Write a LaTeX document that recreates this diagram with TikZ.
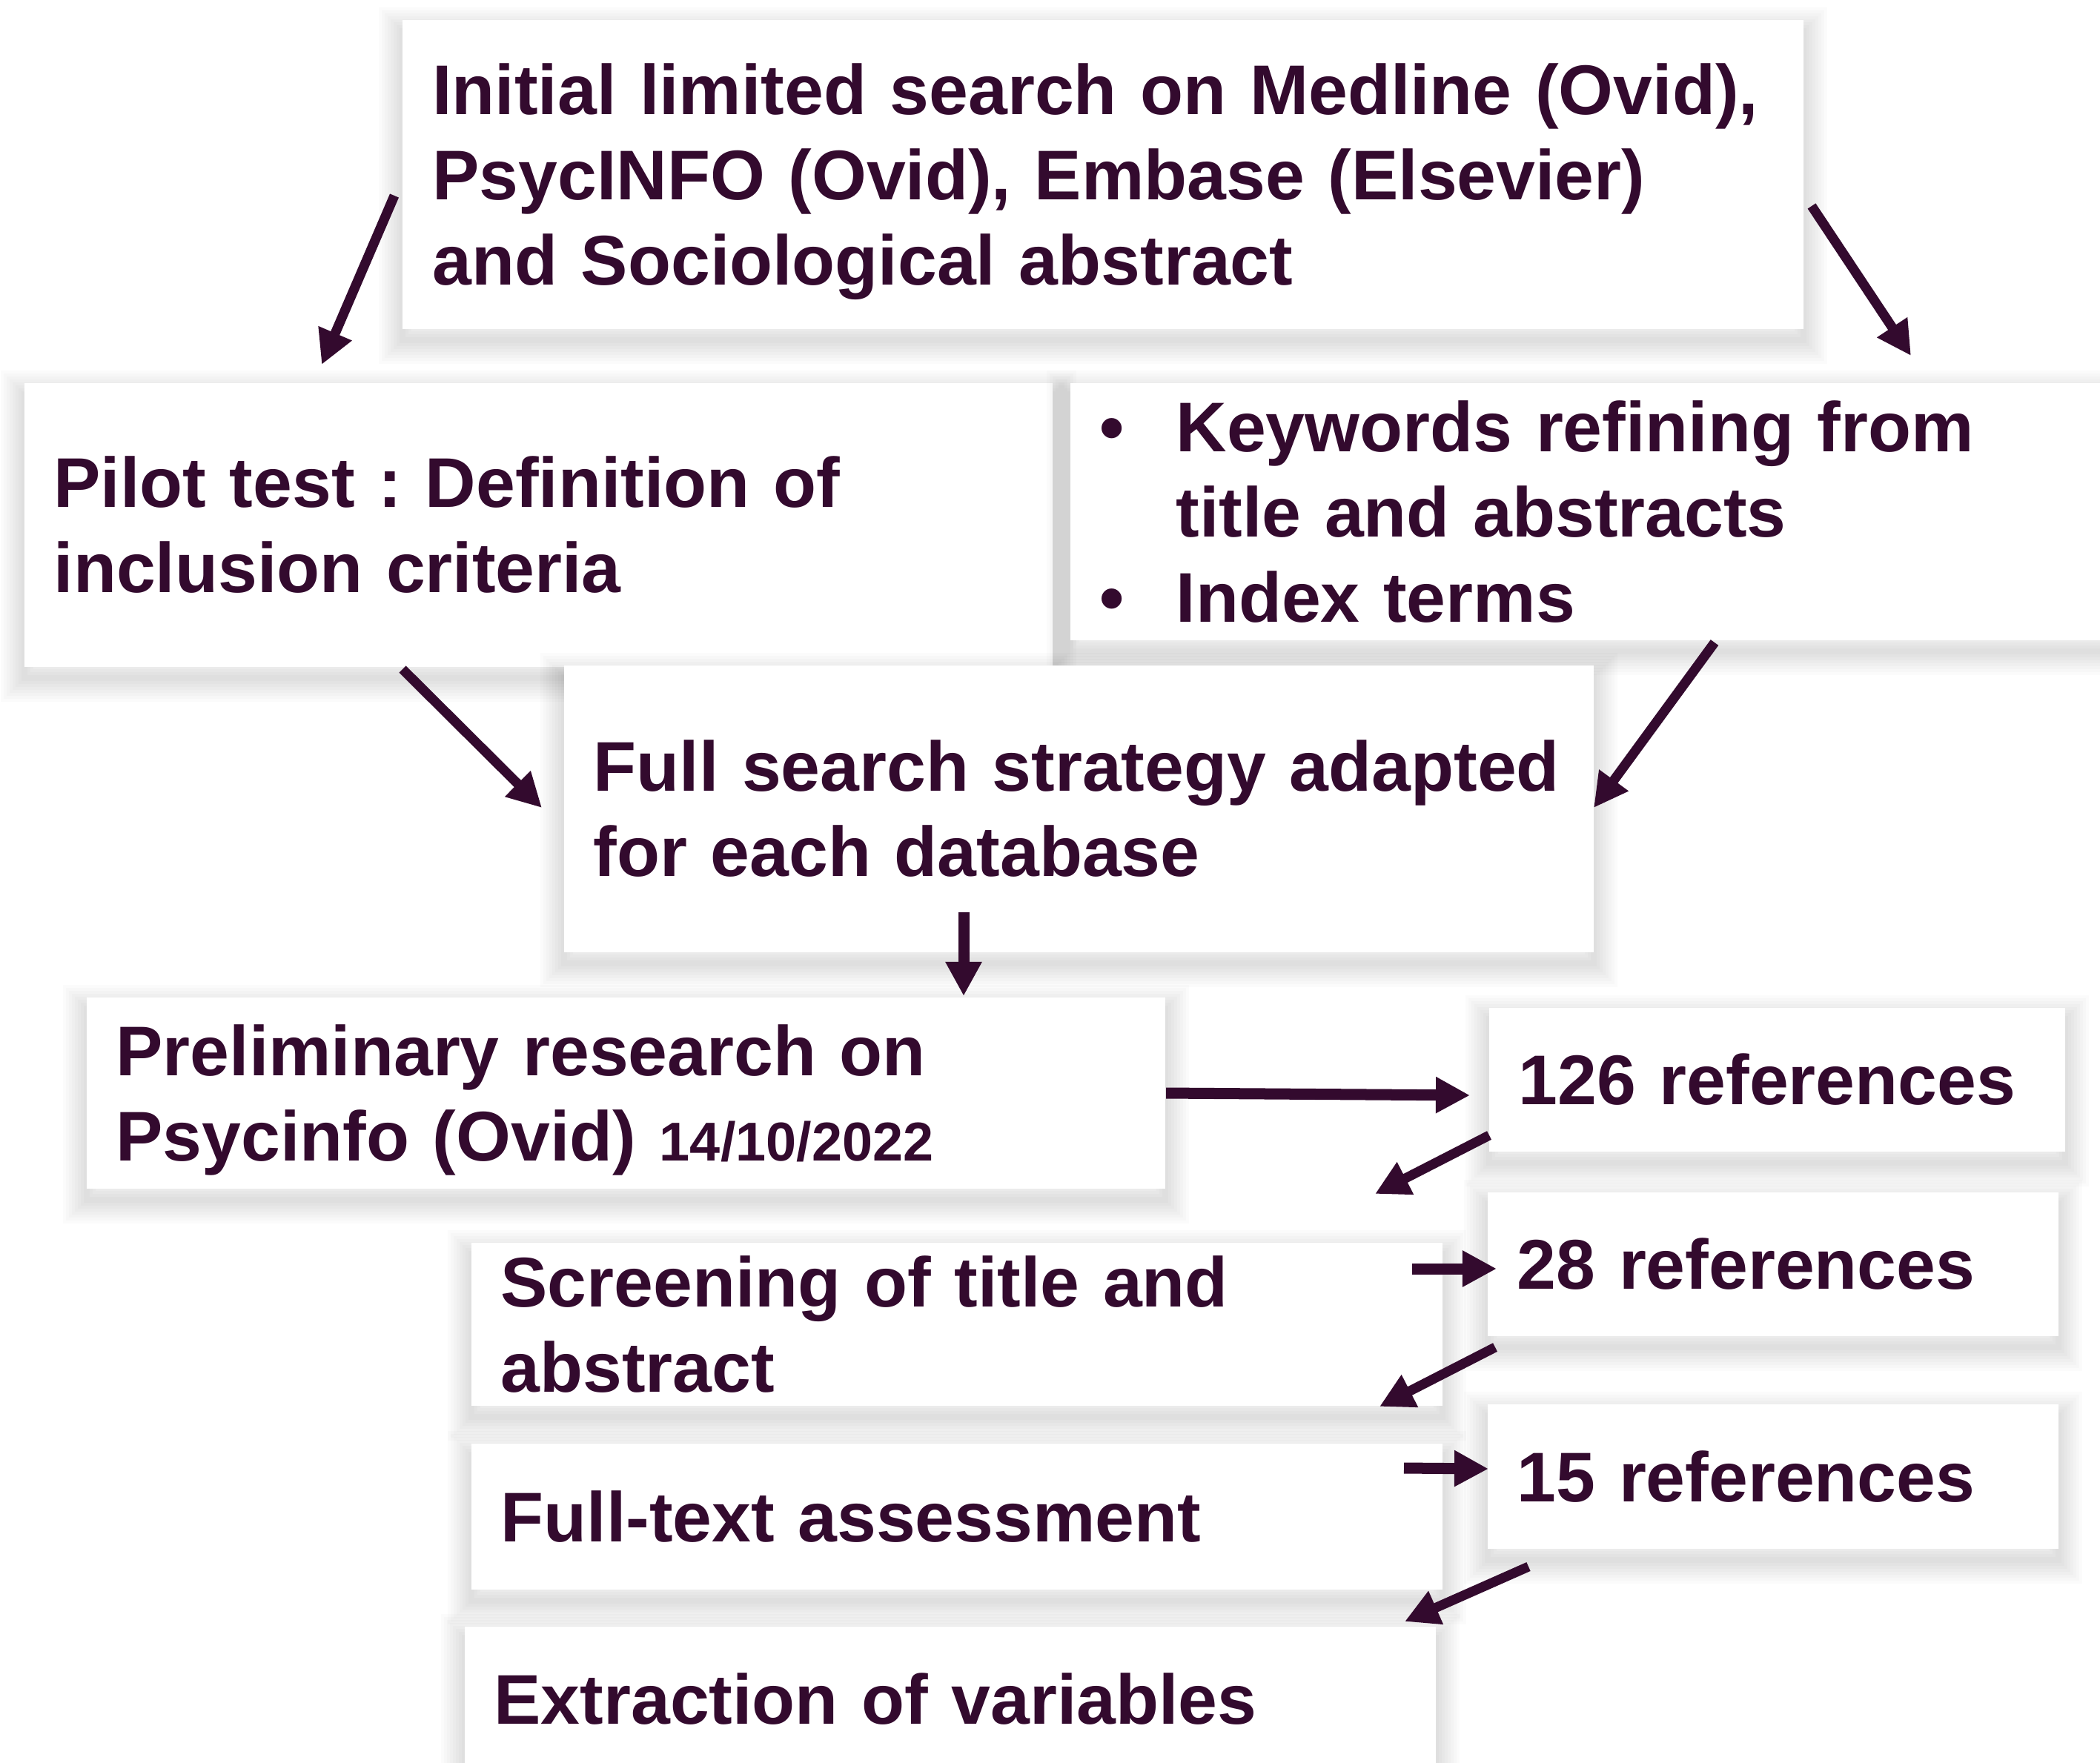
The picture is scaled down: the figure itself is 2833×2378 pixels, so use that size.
\documentclass[tikz,border=0pt]{standalone}
\usepackage{fontspec}
\setmainfont{Liberation Sans}
\frenchspacing
\usetikzlibrary{arrows.meta}
\definecolor{dpurple}{RGB}{51,10,46}
\tikzset{
  shadowring/.style={preaction={draw=black, draw opacity=0.014, line width=#1, fill=none, transform canvas={yshift=-0.15cm}}},
  box/.style={fill=white, draw=none,
    shadowring=0.64cm, shadowring=0.56cm, shadowring=0.48cm, shadowring=0.40cm,
    shadowring=0.32cm, shadowring=0.24cm, shadowring=0.16cm, shadowring=0.08cm,
    inner xsep=0.4cm, inner ysep=0pt, align=left, text=dpurple,
    font=\bfseries\fontsize{27}{32.7}\selectfont},
  arr/.style={draw=dpurple, line width=0.13cm, -{Triangle[length=0.46cm,width=0.46cm]}},
  arrs/.style={arr, line width=0.15cm}
}
\begin{document}
\begin{tikzpicture}[x=0.01cm,y=-0.01cm]
\fill[white] (0,0) rectangle (2833,2378);
\useasboundingbox (0,0) rectangle (2833,2378);

\node[box, minimum width=18.88cm, minimum height=4.17cm, text width=18.08cm] (initial) at (1488,235.5)
  {Initial limited search on Medline (Ovid),\\PsycINFO (Ovid), Embase (Elsevier)\\\smash{and Sociological abstract}};
\node[box, minimum width=13.87cm, minimum height=3.83cm, text width=13.07cm] (pilot) at (726.5,708.5)
  {Pilot test : Definition of\\inclusion criteria};
\node[box, minimum width=14.06cm, minimum height=3.47cm, text width=13.26cm] (keywords) at (2147,690.5)
  {\makebox[1.03cm][l]{\textbullet}Keywords refining from\\\hspace*{1.03cm}title and abstracts\\\makebox[1.03cm][l]{\textbullet}Index terms};
\node[box, minimum width=13.89cm, minimum height=3.87cm, text width=13.09cm] (full) at (1455.5,1091.5)
  {Full search strategy adapted\\for each database};
\node[box, minimum width=14.55cm, minimum height=2.58cm, text width=13.75cm] (prelim) at (844.5,1475)
  {Preliminary research on\\\smash{Psycinfo (Ovid) {\fontsize{21}{26}\selectfont 14/10/2022}}};
\node[box, minimum width=7.77cm, minimum height=1.94cm, text width=6.97cm] (r126) at (2397.5,1457)
  {126 references};
\node[box, minimum width=7.70cm, minimum height=1.94cm, text width=6.90cm] (r28) at (2392,1706)
  {28 references};
\node[box, minimum width=13.10cm, minimum height=2.20cm, text width=12.30cm] (screen) at (1291,1787)
  {Screening of title and\\abstract};
\node[box, minimum width=13.10cm, minimum height=1.97cm, text width=12.30cm] (fulltext) at (1291,2046.5)
  {Full-text assessment};
\node[box, minimum width=7.70cm, minimum height=1.95cm, text width=6.90cm] (r15) at (2392,1992.5)
  {15 references};
\node[box, minimum width=13.10cm, minimum height=1.95cm, text width=12.30cm] (extract) at (1282,2292.5)
  {Extraction of variables};

\coordinate (a1s) at (532,264);   \coordinate (a1e) at (434,492);
\coordinate (a2s) at (2444,278);  \coordinate (a2e) at (2578,480);
\coordinate (a3s) at (543,903);   \coordinate (a3e) at (731,1090);
\coordinate (a4s) at (2313,867);  \coordinate (a4e) at (2150,1090);
\coordinate (a5s) at (1300,1231); \coordinate (a5e) at (1300,1344);
\coordinate (a6e) at (1983,1478);
\coordinate (a7s) at (2009,1532); \coordinate (a7e) at (1855,1611);
\coordinate (a8s) at (1905,1712); \coordinate (a8e) at (2019,1712);
\coordinate (a9s) at (2017,1818); \coordinate (a9e) at (1861,1898);
\coordinate (a10s) at (1894,1981); \coordinate (a10e) at (2008,1982);
\coordinate (a11s) at (2062,2114); \coordinate (a11e) at (1895,2188);

\draw[arr] (a1s) -- (a1e);
\draw[arr] (a2s) -- (a2e);
\draw[arr] (a3s) -- (a3e);
\draw[arr] (a4s) -- (a4e);
\draw[arrs] (a5s) -- (a5e);
\draw[arrs] (prelim.east) -- (a6e);
\draw[arr] (a7s) -- (a7e);
\draw[arrs] (a8s) -- (a8e);
\draw[arr] (a9s) -- (a9e);
\draw[arrs] (a10s) -- (a10e);
\draw[arr] (a11s) -- (a11e);
\end{tikzpicture}
\end{document}
